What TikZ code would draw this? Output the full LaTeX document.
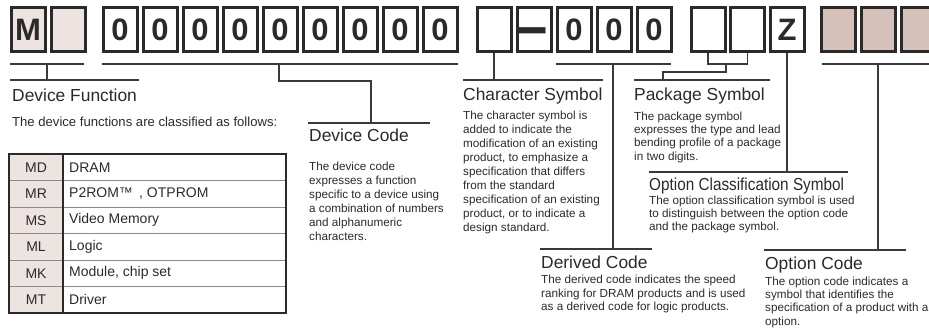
\documentclass[tikz,border=0pt]{standalone}
\usepackage{fontspec}
\setmainfont{Liberation Sans}
\definecolor{ink}{HTML}{2A2A2A}
\definecolor{lnk}{HTML}{3A3A3A}
\definecolor{pale}{HTML}{EDE3E1}
\definecolor{tanbox}{HTML}{D5C0BA}
\definecolor{rule}{HTML}{8A8A8A}
\begin{document}
\begin{tikzpicture}[x=1pt,y=-1pt,
  every node/.style={text=ink},
  cell/.style={draw=ink,line width=3pt,minimum width=34pt,minimum height=44pt,inner sep=0pt,anchor=north west,font=\fontsize{31}{31}\selectfont\bfseries},
  conn/.style={draw=lnk,line width=1.3pt},
  ttl/.style={anchor=base west,inner sep=0pt,font=\fontsize{17.4}{20}\selectfont},
  body/.style={anchor=north west,inner sep=0pt,align=left,font=\fontsize{11.7}{14}\selectfont},
  bodyb/.style={body,font=\fontsize{11.7}{13.3}\selectfont},
  tcode/.style={anchor=center,inner sep=0pt,font=\fontsize{14}{16}\selectfont},
  tname/.style={anchor=west,inner sep=0pt,font=\fontsize{14}{16}\selectfont}]
\useasboundingbox (0,0) rectangle (929,336);

% ---- code boxes ----
\node[cell,fill=pale] (bM) at (9.5,6.5) {M};
\node[cell,fill=pale] (bF) at (50,6.5) {};
\foreach \i/\x in {1/100,2/140,3/180,4/220,5/260,6/300,7/340,8/380,9/420}
  \node[cell] (d\i) at (\x+1.5,6.5) {0};
\node[cell] (c1) at (475.5,6.5) {};
\node[cell] (dash) at (515.5,6.5) {};
\node[anchor=base,inner sep=0pt,font=\fontsize{26}{26}\selectfont\bfseries] (dashsym) at (532.5,47.5) {\scalebox{1.02}[2.4]{—}};
\node[cell] (e1) at (555.5,6.5) {0};
\node[cell] (e2) at (595.5,6.5) {0};
\node[cell] (e3) at (635.5,6.5) {0};
\node[cell] (p1) at (689.5,6.5) {};
\node[cell] (p2) at (729,6.5) {};
\node[cell] (z) at (768.5,6.5) {Z};
\node[cell,fill=tanbox] (o1) at (819.5,6.5) {};
\node[cell,fill=tanbox] (o2) at (859.5,6.5) {};
\node[cell,fill=tanbox] (o3) at (899.5,6.5) {};

% ---- connectors ----
% device function
\coordinate (dfL) at (10,64);
\coordinate (dfR) at (84,64);
\coordinate (dfJ) at (47,64);
\coordinate (dfH) at (47,80);
\draw[conn] (dfL) -- (dfR);
\draw[conn] (dfJ) -- (dfH);
\draw[conn] (10,80) -- (139,80);
% device code
\draw[conn] (102,64) -- (458,64);
\draw[conn] (279,64) -- (279,81) -- (371,81) -- (371,123);
\draw[conn] (308,123) -- (430,123);
% character symbol
\coordinate (hC) at (463,80);
\draw[conn] (hC) -- (603,80);
\draw[conn] (c1.south) -- (c1.south |- hC);
% derived code
\draw[conn] (556,64) -- (671,64);
\draw[conn] (613,64) -- (613,249);
\draw[conn] (540,249) -- (652,249);
% package symbol
\coordinate (pk) at (0,64);
\draw[conn] (p1.south) -- (p1.south |- pk) -- (p2.south |- pk) -- (p2.south);
\draw[conn] (726,64) -- (726,72) -- (663,72) -- (663,80);
\draw[conn] (634,80) -- (770,80);
% option classification symbol
\coordinate (oc) at (0,172);
\draw[conn] (z.south) -- (z.south |- oc);
\draw[conn] (649,172) -- (848,172);
% option code
\draw[conn] (822,64) -- (935,64);
\draw[conn] (878,64) -- (878,250);
\draw[conn] (764,250) -- (906,250);

% ---- texts ----
\node[ttl] (tDF) at (12,102) {Device Function};
\node[anchor=base west,inner sep=0pt,font=\fontsize{13.1}{15}\selectfont] (sDF) at (12,127) {The device functions are classified as follows:};

\node[ttl] (tDC) at (309,142) {Device Code};
\node[body] (bDC) at (309,161.6) {The device code\\expresses a function\\specific to a device using\\a combination of numbers\\and alphanumeric\\characters.};

\node[ttl] (tCS) at (463,100.5) {Character Symbol};
\node[body] (bCS) at (463,110.6) {The character symbol is\\added to indicate the\\modification of an existing\\product, to emphasize a\\specification that differs\\from the standard\\specification of an existing\\product, or to indicate a\\design standard.};

\node[ttl] (tPS) at (634,100.5) {Package Symbol};
\node[bodyb] (bPS) at (634,111.6) {The package symbol\\expresses the type and lead\\bending profile of a package\\in two digits.};

\node[ttl] (tOS) at (649,190.5) {\scalebox{0.88}[1]{Option Classification Symbol}};
\node[bodyb] (bOS) at (649,195.6) {The option classification symbol is used\\to distinguish between the option code\\and the package symbol.};

\node[ttl] (tDv) at (541,269) {Derived Code};
\node[bodyb] (bDv) at (541,275.1) {The derived code indicates the speed\\ranking for DRAM products and is used\\as a derived code for logic products.};

\node[ttl] (tOC) at (765,270) {Option Code};
\node[bodyb] (bOC) at (765,276.6) {The option code indicates a\\symbol that identifies the\\specification of a product with an\\option.};

% ---- table ----
\fill[pale] (9,154) rectangle (63,313);
\foreach \k in {1,...,5}
  \draw[rule,line width=0.9pt] (9,154+26.5*\k) -- (286,154+26.5*\k);
\draw[ink,line width=1.3pt] (63,154) -- (63,313);
\draw[ink,line width=2pt] (9,154) rectangle (286,313);
\foreach \k/\c/\n in {0/MD/DRAM,1/MR/P2ROM™ \,{,} OTPROM,2/MS/Video Memory,3/ML/Logic,4/MK/{Module, chip set},5/MT/Driver}{
  \node[tcode] (tc\k) at (36,167.25+26.5*\k) {\c};
  \node[tname] (tn\k) at (69,167.25+26.5*\k) {\n};
}
\end{tikzpicture}
\end{document}
